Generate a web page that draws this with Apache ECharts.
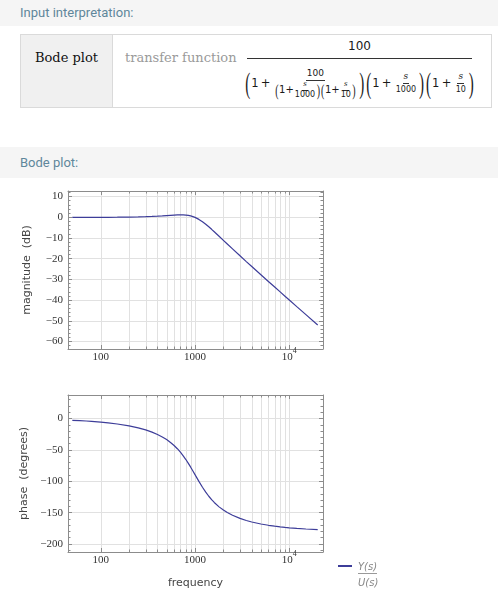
<!DOCTYPE html>
<html>
<head>
<meta charset="utf-8">
<script src="https://cdn.jsdelivr.net/npm/echarts@6/dist/echarts.min.js"></script>
<style>
html, body { margin: 0; padding: 0; background: #fff; }
body { width: 498px; height: 602px; position: relative; overflow: hidden; }
#chart { position: absolute; left: 0; top: 0; width: 498px; height: 602px; }
.strip { position: absolute; left: 0; width: 498px; background: #f5f5f5; color: #5f879b;
  font: 13px Roboto, 'DejaVu Sans', sans-serif; box-sizing: border-box; padding-left: 20px; }
#h1 { top: 0; height: 26px; line-height: 25px; }
#h2 { top: 147px; height: 31px; line-height: 31px; }
#box { position: absolute; left: 20px; top: 34px; width: 472px; height: 74px;
  border: 1px solid #dadada; box-sizing: border-box; background: #fff; }
#cellL { position: absolute; left: 0; top: 0; width: 91px; height: 72px; background: #f0f0f0;
  border-right: 1px solid #dadada; font: 13px 'DejaVu Serif', serif; color: #111;
  text-align: center; line-height: 45px; }
#tf { position: absolute; left: 104px; top: 0; font: 13px 'DejaVu Serif', serif; line-height: 45px; color: #9a9a9a; }
.m { position: absolute; font-family: 'DejaVu Sans', sans-serif; color: #1a1a1a; }
#num { left: 247px; top: 36px; width: 225px; text-align: center; font-size: 12px; line-height: 20px; }
#bar { left: 247px; top: 58px; width: 225px; height: 1px; background: #333; }
#den { left: 245px; top: 66px; width: 229px; height: 34px; display: flex; align-items: center;
  justify-content: center; font-size: 11.5px; white-space: nowrap; }
.bp { display: inline-block; font: 15px 'Liberation Serif', serif; transform: scaleY(2.0); margin: 0 1px; }
.sp { display: inline-block; font: 10px 'Liberation Serif', serif; transform: scaleY(1.6); margin: 0 0.5px; }
.fr { display: inline-flex; flex-direction: column; align-items: center; margin: 0 2px; }
.fr > .n { display: block; border-bottom: 1px solid #333; padding: 0 1px 1px; line-height: 1.35; text-align: center; }
.fr > .d { display: block; line-height: 1.35; padding-top: 1px; text-align: center; }
.fr > .d.row { display: flex; flex-direction: row; align-items: center; white-space: nowrap; padding-top: 0; }
.fr.tight { margin: 0 1px; }
.fr.tight > .n { line-height: 1.1; padding-bottom: 1px; }
.fr.tight > .d { line-height: 1.1; padding-top: 0; }
.s { font-family: 'DejaVu Serif', serif; font-style: italic; }
.f7 { font-size: 7px; }
.f8 { font-size: 8px; }
.f9 { font-size: 9px; }
.f10 { font-size: 10px; }
</style>
</head>
<body>
<div id="h1" class="strip">Input interpretation:</div>
<div id="box">
  <div id="cellL">Bode plot</div>
  <div id="tf">transfer function</div>
</div>
<div id="num" class="m">100</div>
<div id="bar" class="m"></div>
<div id="den" class="m"><span class="bp">(</span><span>1&#8201;+&#8201;</span><span class="fr"><span class="n f9">100</span><span class="d row"><span class="sp">(</span><span class="f10">1+</span><span class="fr tight"><span class="n s f7">s</span><span class="d f8">1000</span></span><span class="sp">)</span><span class="sp">(</span><span class="f10">1+</span><span class="fr tight"><span class="n s f7">s</span><span class="d f8">10</span></span><span class="sp">)</span></span></span><span class="bp">)</span><span class="bp">(</span><span>1&#8201;+&#8201;</span><span class="fr"><span class="n s f9">s</span><span class="d f8">1000</span></span><span class="bp">)</span><span class="bp">(</span><span>1&#8201;+&#8201;</span><span class="fr"><span class="n s f9">s</span><span class="d f8">10</span></span><span class="bp">)</span></div>
<div id="h2" class="strip">Bode plot:</div>
<div id="chart"></div>
<script>
// Frequency response of 100 / ((1 + 100/((1+s/1000)(1+s/10))) (1+s/1000)(1+s/10))
const freqs = [50, 60, 70, 80, 100, 120, 150, 200, 250, 300, 350, 400, 450, 500, 550, 600,
  650, 700, 750, 800, 850, 900, 950, 1000, 1100, 1200, 1300, 1400, 1500, 1600, 1800, 2000,
  2200, 2500, 3000, 3500, 4000, 5000, 6000, 7000, 8000, 9000, 10000, 12000, 15000, 20000];
const magnitudeDb = [-0.08, -0.07, -0.07, -0.06, -0.04, -0.03, 0.01, 0.08, 0.17, 0.28, 0.40,
  0.53, 0.66, 0.80, 0.92, 1.03, 1.10, 1.13, 1.11, 1.03, 0.86, 0.62, 0.30, -0.09, -1.05,
  -2.19, -3.40, -4.63, -5.84, -7.00, -9.18, -11.15, -12.92, -15.29, -18.63, -21.43, -23.82,
  -27.79, -31.01, -33.72, -36.06, -38.12, -39.96, -43.14, -47.02, -52.03];
const phaseDeg = [-2.87, -3.45, -4.02, -4.60, -5.77, -6.94, -8.72, -11.76, -14.92, -18.23,
  -21.72, -25.42, -29.37, -33.60, -38.14, -42.99, -48.17, -53.67, -59.43, -65.40, -71.48,
  -77.59, -83.61, -89.43, -100.20, -109.53, -117.38, -123.90, -129.30, -133.81, -140.81,
  -145.96, -149.88, -154.27, -159.23, -162.54, -164.92, -168.11, -170.17, -171.62, -172.69,
  -173.52, -174.17, -175.16, -176.13, -177.10];
// vertical grid lines / frame ticks on the frequency axis
const gridFreqs = [100, 200, 300, 400, 500, 600, 700, 800, 900,
  1000, 2000, 3000, 4000, 5000, 6000, 7000, 8000, 9000, 10000];
const seriesName = 'Y(s)/U(s)';

const LINE = '#3d3d99';
const FRAME = '#8c8c8c';
const GRID = '#e1e1e1';
const TICK_FONT = "'Liberation Serif', serif";
const TITLE_FONT = "'DejaVu Sans', sans-serif";
const X_MIN = 45, X_MAX = 22770;

function fmtNum(v) {
  return v < 0 ? '\u2212' + (-v) : String(v);
}
function fmtFreq(v) {
  const e = Math.round(Math.log10(v));
  if (e >= 4) return '{b|10}{s|' + e + '}';
  return '{b|' + v + '}';
}

function bottomX(gridIndex, name) {
  return {
    type: 'log', logBase: 10, gridIndex, position: 'bottom', min: X_MIN, max: X_MAX,
    axisLine: { show: true, onZero: false, lineStyle: { color: FRAME, width: 1 } },
    axisTick: { show: false }, minorTick: { show: false },
    splitLine: { show: false }, minorSplitLine: { show: false },
    axisLabel: {
      showMinLabel: false, showMaxLabel: false, margin: -2, formatter: fmtFreq,
      rich: {
        b: { fontFamily: TICK_FONT, fontSize: 11, color: '#333', lineHeight: 16, verticalAlign: 'bottom' },
        s: { fontFamily: TICK_FONT, fontSize: 8, color: '#333', lineHeight: 8, verticalAlign: 'top' }
      }
    },
    name: name || '', nameLocation: 'middle', nameGap: 26,
    nameTextStyle: { fontFamily: TITLE_FONT, fontSize: 11, color: '#444' }
  };
}
function topX(gridIndex) {
  return {
    type: 'log', logBase: 10, gridIndex, position: 'top', min: X_MIN, max: X_MAX,
    axisLine: { show: true, onZero: false, lineStyle: { color: FRAME, width: 1 } },
    axisTick: { show: false }, axisLabel: { show: false }, splitLine: { show: false }
  };
}
function sideY(gridIndex, min, max, splitNumber, position, name) {
  const left = position === 'left';
  return {
    type: 'value', gridIndex, position, min, max, splitNumber,
    axisLine: { show: true, onZero: false, lineStyle: { color: FRAME, width: 1 } },
    axisTick: { show: true, inside: true, length: 4, lineStyle: { color: FRAME } },
    minorTick: { show: true, splitNumber: 5, length: 2.5, lineStyle: { color: FRAME } },
    splitLine: { show: left, lineStyle: { color: GRID, width: 1 } },
    axisLabel: {
      show: left, showMinLabel: false, showMaxLabel: false, margin: 5,
      fontFamily: TICK_FONT, fontSize: 11, color: '#333', formatter: fmtNum
    },
    name: left ? name : '', nameLocation: 'middle', nameGap: 35, nameRotate: 90,
    nameTextStyle: { fontFamily: TITLE_FONT, fontSize: 11, color: '#444' }
  };
}

function gridLineSeries(xIdx, yIdx) {
  return {
    type: 'custom', xAxisIndex: xIdx, yAxisIndex: yIdx, silent: true, z: 1,
    data: gridFreqs.map(f => [f, 0]),
    encode: { x: 0, y: 1 },
    renderItem(params, api) {
      const cs = params.coordSys;
      const f = api.value(0);
      const x = Math.round(api.coord([f, 0])[0]) + 0.5;
      const top = cs.y, bottom = cs.y + cs.height;
      const lg = Math.log10(f);
      const len = Math.abs(lg - Math.round(lg)) < 1e-9 ? 4 : 2.5;
      return {
        type: 'group',
        children: [
          { type: 'line', shape: { x1: x, y1: top + 1, x2: x, y2: bottom - 1 }, style: { stroke: GRID, lineWidth: 1 } },
          { type: 'line', shape: { x1: x, y1: bottom, x2: x, y2: bottom - len }, style: { stroke: FRAME, lineWidth: 1 } },
          { type: 'line', shape: { x1: x, y1: top, x2: x, y2: top + len }, style: { stroke: FRAME, lineWidth: 1 } }
        ]
      };
    }
  };
}

function curve(xIdx, yIdx, values) {
  return {
    name: seriesName, type: 'line', xAxisIndex: xIdx, yAxisIndex: yIdx, z: 3,
    data: freqs.map((f, i) => [f, values[i]]),
    showSymbol: false, symbol: 'none', smooth: false,
    lineStyle: { color: LINE, width: 1.2 }, itemStyle: { color: LINE },
    animation: false
  };
}

const chart = echarts.init(document.getElementById('chart'), null, { renderer: 'canvas' });
chart.setOption({
  animation: false,
  grid: [
    { left: 68, top: 191, width: 255, height: 158 },
    { left: 68, top: 395, width: 255, height: 157 }
  ],
  xAxis: [bottomX(0), topX(0), bottomX(1, 'frequency'), topX(1)],
  yAxis: [
    sideY(0, -63.62, 12.66, 8, 'left', 'magnitude  (dB)'),
    sideY(0, -63.62, 12.66, 8, 'right'),
    sideY(1, -212.75, 37.45, 5, 'left', 'phase  (degrees)'),
    sideY(1, -212.75, 37.45, 5, 'right')
  ],
  legend: {
    left: 338, top: 565, itemWidth: 14, itemHeight: 2, icon: 'rect', padding: 0,
    data: [seriesName], formatter: () => '', selectedMode: false
  },
  graphic: [
    { type: 'text', left: 358, top: 562, style: { text: 'Y(s)', font: "italic 10px 'DejaVu Sans'", fill: '#888' } },
    { type: 'line', shape: { x1: 358, y1: 573.5, x2: 377, y2: 573.5 }, style: { stroke: '#999', lineWidth: 1 } },
    { type: 'text', left: 358, top: 578, style: { text: 'U(s)', font: "italic 10px 'DejaVu Sans'", fill: '#888' } }
  ],
  series: [
    gridLineSeries(0, 0),
    gridLineSeries(2, 2),
    curve(0, 0, magnitudeDb),
    curve(2, 2, phaseDeg)
  ]
});
</script>
</body>
</html>
